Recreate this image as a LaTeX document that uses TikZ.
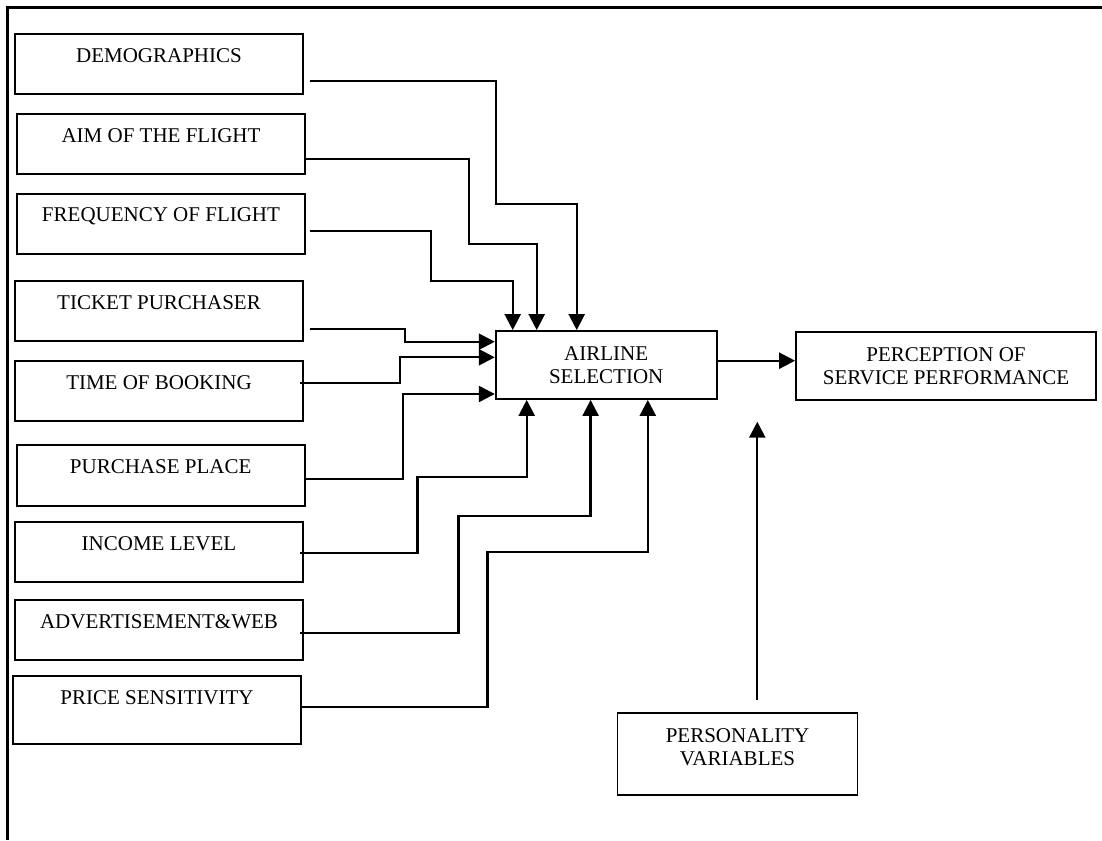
\documentclass[tikz,border=0pt]{standalone}
\usepackage{fontspec}
\setmainfont{Liberation Serif}
\usetikzlibrary{arrows.meta}
\begin{document}
\begin{tikzpicture}[x=0.5pt,y=-0.5pt,
  every node/.style={font=\fontsize{10.5}{11.5}\selectfont},
  box/.style={draw,line width=0.9pt,inner sep=0pt,rectangle},
  lbox/.style={box,minimum width=144pt,minimum height=30pt},
  arr/.style={line width=1.15pt,-{Triangle[length=8pt,width=8pt]}},
  ]
\useasboundingbox (0,0) rectangle (1102,840);
% frame
\draw[line width=1.2pt] (7.5,840) -- (7.5,7.5) -- (1102,7.5);

% left boxes
\node[lbox,label={[anchor=center,yshift=-11.5pt]north:DEMOGRAPHICS}] (dem) at (159,64) {};
\node[lbox,label={[anchor=center,yshift=-11.5pt]north:AIM OF THE FLIGHT}] (aim) at (161,144) {};
\node[lbox,label={[anchor=center,yshift=-11.5pt]north:FREQUENCY OF FLIGHT}] (freq) at (161,224) {};
\node[lbox,label={[anchor=center,yshift=-11.5pt]north:TICKET PURCHASER}] (tick) at (159,311) {};
\node[lbox,label={[anchor=center,yshift=-11.5pt]north:TIME OF BOOKING}] (time) at (159,391) {};
\node[lbox,minimum height=30.5pt,label={[anchor=center,yshift=-11.5pt]north:PURCHASE PLACE}] (purch) at (160.7,475.5) {};
\node[lbox,label={[anchor=center,yshift=-11.5pt]north:INCOME LEVEL}] (inc) at (159,552) {};
\node[lbox,label={[anchor=center,yshift=-11.5pt]north:ADVERTISEMENT\&WEB}] (adv) at (159,630) {};
\node[lbox,minimum height=34pt,label={[anchor=center,yshift=-11.5pt]north:PRICE SENSITIVITY}] (price) at (157,710) {};

% central boxes
\node[box,minimum width=110.5pt,minimum height=34pt,align=center] (air) at (606.2,365) {AIRLINE\\SELECTION};
\node[box,minimum width=150pt,minimum height=34pt,align=center] (perc) at (946,366) {PERCEPTION OF\\SERVICE PERFORMANCE};
\node[box,minimum width=120pt,minimum height=41pt,
  label={[anchor=center,yshift=-17.65pt,align=center]north:{PERSONALITY\\VARIABLES}}] (pers) at (737.5,754) {};

% connector start points
\coordinate (demout) at (310,80.7);
\coordinate (aimout) at (305,159);
\coordinate (freqout) at (310,230.7);
\coordinate (tickout) at (310,329);
\coordinate (timeout) at (300.4,382.7);
\coordinate (purchout) at (304.5,479);
\coordinate (incout) at (300.4,553);
\coordinate (advout) at (300.4,632.7);
\coordinate (priceout) at (302.2,706.7);
\coordinate (persout) at (757.3,700);
\coordinate (perstip) at (757.3,421.7);

% connectors from the top
\draw[arr] (demout) -| (496,203.7) -| (air.north -| 576.7,0);
\draw[arr] (aimout) -| (468.8,244) -| (air.north -| 536.7,0);
\draw[arr] (freqout) -| (431.3,281) -| (air.north -| 512.7,0);
% connectors from the left
\draw[arr] (tickout) -| (405,341.7) -- (air.west |- 0,341.7);
\draw[arr] (timeout) -| (400,357.3) -- (air.west |- 0,357.3);
\draw[arr] (purchout) -| (402.7,394) -- (air.west |- 0,394);
% connectors from below
\draw[arr] (incout) -| (417.4,476.7) -| (air.south -| 526.7,0);
\draw[arr] (advout) -| (458.5,516) -| (air.south -| 590.6,0);
\draw[arr] (priceout) -| (487.5,552) -| (air.south -| 647.8,0);
% output
\draw[arr] (air.east |- 0,360.7) -- (perc.west |- 0,360.7);
\draw[arr] (persout) -- (perstip);
\end{tikzpicture}
\end{document}
